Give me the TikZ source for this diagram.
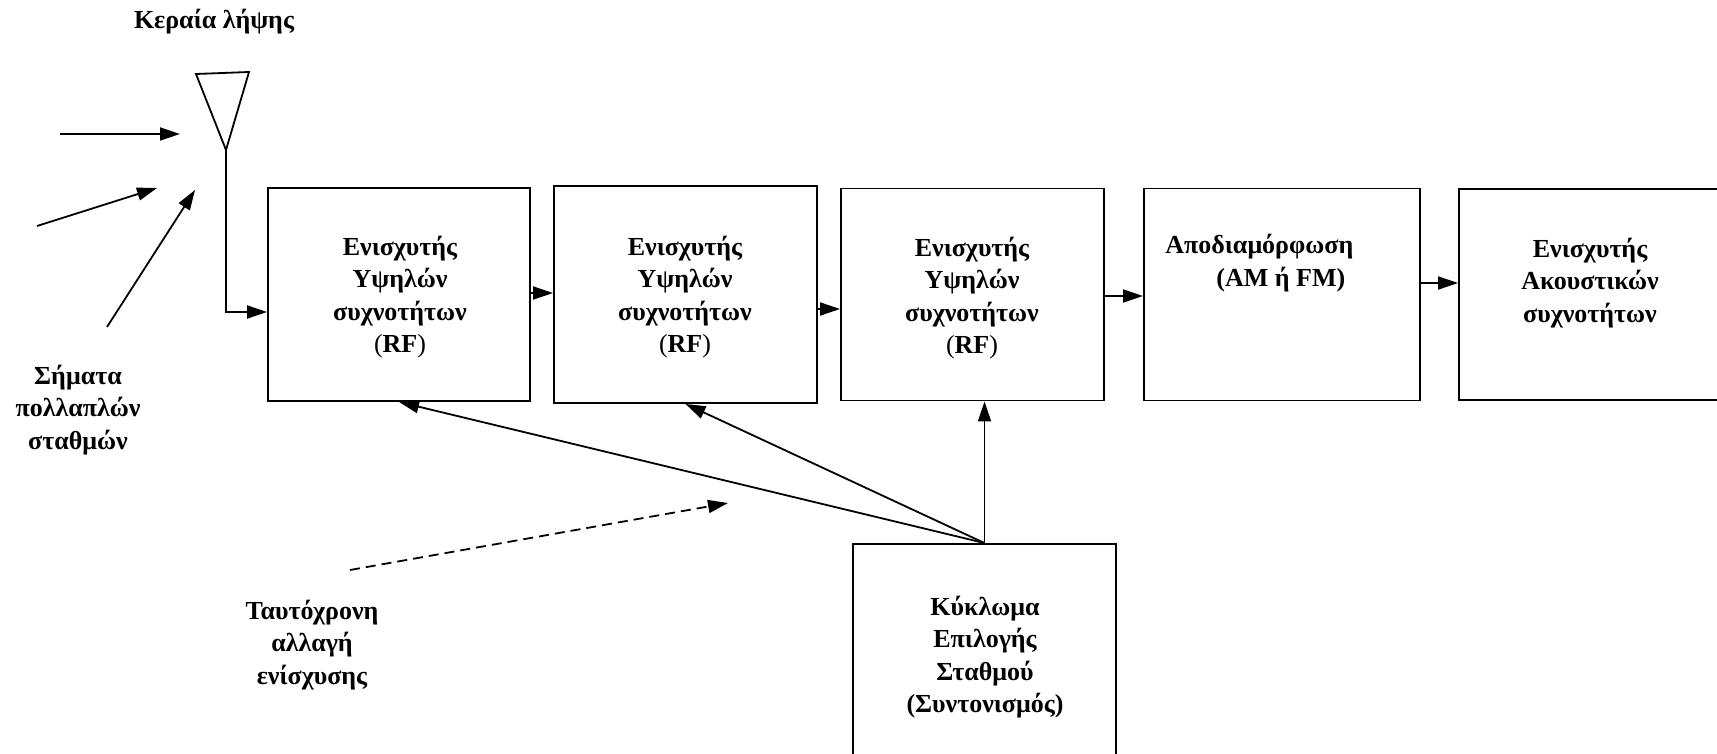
\documentclass[tikz,border=0pt]{standalone}
\usepackage{fontspec}
\setmainfont{Liberation Serif}
\usetikzlibrary{arrows.meta}

\begin{document}
\begin{tikzpicture}
[x=0.5pt,y=-0.5pt,
  boxDecorate/.style={shape=rectangle,draw,line width=0.95pt,inner sep=0pt},%
  textDecorate/.style={align=center,inner sep=0pt,font=\fontsize{13pt}{16.25pt}\selectfont\bfseries},%
  lineDecorate/.style={-{Triangle[length=10pt,width=6.5pt]},line width=0.9pt},%
  dashDecorate/.style={lineDecorate,dash pattern=on 5pt off 3pt}]
\clip (0,0) rectangle (1717,754);
%% blocks
\foreach \nodename/\x/\y/\w/\h in {rf1/399/294.5/131pt/106.5pt, rf2/685.5/294.5/131.5pt/108.5pt,
  rf3/972.5/294.5/131.5pt/106pt, demod/1282/294.5/138pt/106pt,
  audio/1590/294.5/131pt/105.5pt, tune/984.5/654/131.5pt/110pt}
{
  \node (\nodename) at (\x,\y) [boxDecorate,minimum width=\w,minimum height=\h] {};
}
%% texts
\foreach \nodename/\x/\y in {rf1txt/400/297, rf2txt/685/297, rf3txt/972/298}
{
  \node (\nodename) at (\x,\y) [textDecorate] {Ενισχυτής\\Υψηλών\\συχνοτήτων\\\textmd{(}RF\textmd{)}};
}
\node (demodtxt) at (1165,263) [textDecorate,anchor=west,align=left] {Αποδιαμόρφωση\\\hspace*{25.5pt}(AM ή FM)};
\node (audiotxt) at (1590,283) [textDecorate] {Ενισχυτής\\Ακουστικών\\συχνοτήτων};
\node (tunetxt) at (985,657) [textDecorate] {Κύκλωμα\\Επιλογής\\Σταθμού\\(Συντονισμός)};
\node (anttxt) at (214,22) [textDecorate] {Κεραία λήψης};
\node (sigtxt) at (78,410) [textDecorate] {Σήματα\\πολλαπλών\\σταθμών};
\node (gaintxt) at (312,645) [textDecorate] {Ταυτόχρονη\\αλλαγή\\ενίσχυσης};
%% antenna
\coordinate (antL) at (196,74);
\coordinate (antR) at (249,72);
\coordinate (antTip) at (226,150);
\coordinate (feed) at (226,312);
\draw[line width=0.9pt] (antL) -- (antR) -- (antTip) -- cycle;
\draw[lineDecorate] (antTip) -- (feed) -- (rf1.west |- feed);
%% incoming signals
\foreach \n/\xa/\ya/\xb/\yb in {1/60/134/180/134, 2/37/226/157/188, 3/107/327/195/190}
{
  \coordinate (sig\n a) at (\xa,\ya);
  \coordinate (sig\n b) at (\xb,\yb);
  \draw[lineDecorate] (sig\n a) -- (sig\n b);
}
%% signal chain
\path
\foreach \startnode/\endnode/\dy in {rf1/rf2/0.75pt, rf2/rf3/-7.25pt, rf3/demod/-0.75pt, demod/audio/5.75pt} {
  ([yshift=\dy]\startnode.east) edge[lineDecorate] ([yshift=\dy]\endnode.west)
};
%% tuning
\path
\foreach \endnode in {rf1, rf2} {
  (tune.north) edge[lineDecorate] (\endnode.south)
};
\draw[lineDecorate] (tune.north) -- (tune.north |- rf3.south);
\coordinate (dashA) at (350,570);
\coordinate (dashB) at (728,503);
\draw[dashDecorate] (dashA) -- (dashB);
\end{tikzpicture}
\end{document}
